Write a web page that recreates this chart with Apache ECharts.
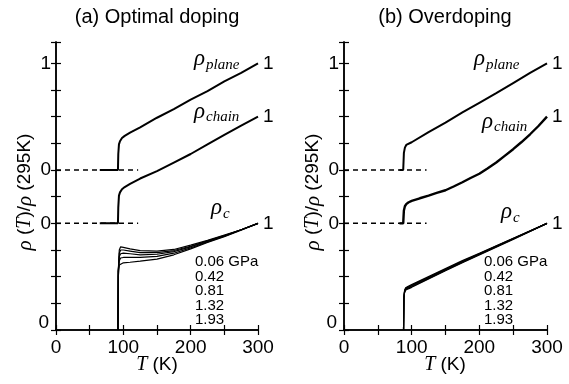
<!DOCTYPE html>
<html>
<head>
<meta charset="utf-8">
<script src="https://cdn.jsdelivr.net/npm/echarts@6/dist/echarts.min.js"></script>
<style>
html, body { margin: 0; padding: 0; background: #fff; }
#chart { width: 569px; height: 384px; }
</style>
</head>
<body>
<div id="chart"></div>
<script>
//(a) optimal doping
const tPlaneA = [65, 80, 92, 92.5, 93.5, 95, 98, 102, 110, 125, 150, 175, 200, 225, 250, 275, 300];
const planeA = [0, 0, 0, 0.15, 0.24, 0.27, 0.30, 0.32, 0.35, 0.40, 0.49, 0.57, 0.66, 0.74, 0.83, 0.91, 1.0];
const tChainA = [65, 80, 92, 92.5, 93.5, 95, 98, 102, 110, 125, 150, 175, 200, 225, 250, 275, 300];
const chainA = [0, 0, 0, 0.15, 0.26, 0.29, 0.32, 0.34, 0.37, 0.42, 0.49, 0.57, 0.65, 0.74, 0.83, 0.915, 1.0];
const tCA = [92, 92.5, 94, 96, 100, 110, 125, 150, 175, 200, 225, 250, 275, 300];
const cA1 = [0, 0.55, 0.75, 0.78, 0.775, 0.76, 0.745, 0.74, 0.755, 0.795, 0.84, 0.89, 0.94, 1.0];
const cA2 = [0, 0.55, 0.72, 0.75, 0.75, 0.74, 0.725, 0.725, 0.745, 0.785, 0.835, 0.885, 0.94, 1.0];
const cA3 = [0, 0.55, 0.69, 0.715, 0.72, 0.715, 0.705, 0.71, 0.735, 0.78, 0.83, 0.88, 0.94, 1.0];
const cA4 = [0, 0.55, 0.65, 0.675, 0.68, 0.68, 0.68, 0.69, 0.72, 0.77, 0.825, 0.88, 0.94, 1.0];
const cA5 = [0, 0.5, 0.61, 0.625, 0.63, 0.635, 0.645, 0.665, 0.705, 0.76, 0.82, 0.875, 0.935, 1.0];

//(b) overdoping
const tPlaneB = [82, 87.5, 88, 88.5, 90, 92, 100, 125, 150, 175, 200, 225, 250, 275, 300];
const planeB = [0, 0, 0.08, 0.16, 0.21, 0.235, 0.26, 0.355, 0.445, 0.54, 0.63, 0.72, 0.815, 0.91, 1.0];
const tChainB = [82, 87.5, 88, 88.5, 90, 92, 95, 100, 112, 125, 137, 150, 162, 175, 187, 200, 212, 225, 237, 250, 262, 275, 287, 300];
const chainB = [0, 0, 0.06, 0.12, 0.16, 0.18, 0.195, 0.21, 0.235, 0.26, 0.285, 0.31, 0.345, 0.385, 0.425, 0.465, 0.515, 0.57, 0.63, 0.695, 0.76, 0.835, 0.91, 1.0];
const tCB = [88, 88.5, 89.5, 91, 95, 100, 125, 150, 175, 200, 225, 250, 275, 300];
const cB1 = [0, 0.3, 0.37, 0.395, 0.41, 0.425, 0.5, 0.575, 0.65, 0.72, 0.79, 0.86, 0.93, 1.0];
const cB2 = [0, 0.3, 0.365, 0.39, 0.405, 0.42, 0.495, 0.57, 0.645, 0.715, 0.787, 0.857, 0.928, 1.0];
const cB3 = [0, 0.3, 0.36, 0.385, 0.4, 0.413, 0.49, 0.565, 0.64, 0.712, 0.783, 0.855, 0.927, 1.0];
const cB4 = [0, 0.3, 0.355, 0.378, 0.393, 0.406, 0.484, 0.56, 0.635, 0.708, 0.78, 0.853, 0.926, 1.0];
const cB5 = [0, 0.3, 0.35, 0.372, 0.386, 0.4, 0.478, 0.555, 0.63, 0.703, 0.776, 0.85, 0.925, 1.0];

//zero reference lines (dashed)
const tDash = [0, 122];
const zeroDash = [0, 0];

//vertical offsets of the stacked curves
const offPlane = 1.5;
const offChain = 1.0;
const offC = 0;

//tick labels
const xTickVals = [0, 100, 200, 300];
const leftTickVals = [0, 1, 1.5, 2.5];
const leftTickText = ['0', '0', '0', '1'];
const rightTickVals = [1, 2, 2.5];
const rightTickText = ['1', '1', '1'];
const pressures = ['0.06 GPa', '0.42', '0.81', '1.32', '1.93'];

const sans = '"Liberation Sans", Arial, sans-serif';
const serif = '"Liberation Serif", "Times New Roman", serif';

const chart = echarts.init(document.getElementById('chart'));

function pairs(ts, vs, off) {
    return ts.map((t, i) => [t, vs[i] + off]);
}

function findLabel(vals, texts, v) {
    for (let i = 0; i < vals.length; i++) {
        if (Math.abs(vals[i] - v) < 1e-6) return texts[i];
    }
    return '';
}

function curve(ts, vs, off, g, width, dashed) {
    return {
        type: 'line',
        xAxisIndex: g * 2,
        yAxisIndex: g * 2,
        data: pairs(ts, vs, off),
        showSymbol: false,
        silent: true,
        lineStyle: { color: '#000', width: width, type: dashed ? [5, 4] : 'solid' },
        z: dashed ? 2 : 3
    };
}

function xAxes(g) {
    return [{
        type: 'value', gridIndex: g, position: 'bottom', min: 0, max: 300, interval: 50,
        axisLine: { lineStyle: { color: '#000', width: 1.5 } },
        axisTick: { inside: true, length: 5, lineStyle: { color: '#000', width: 1.2 } },
        axisLabel: {
            color: '#000', fontSize: 19, fontFamily: sans, margin: 8,
            formatter: v => xTickVals.indexOf(v) >= 0 ? String(v) : ''
        },
        splitLine: { show: false }
    }, {
        type: 'value', gridIndex: g, position: 'top', min: 0, max: 300, interval: 50,
        axisLine: { lineStyle: { color: '#000', width: 1.5 } },
        axisTick: { inside: true, length: 5, lineStyle: { color: '#000', width: 1.2 } },
        axisLabel: { show: false },
        splitLine: { show: false }
    }];
}

function yAxes(g) {
    return [{
        type: 'value', gridIndex: g, position: 'left', min: 0, max: 2.7, interval: 0.25,
        axisLine: { lineStyle: { color: '#000', width: 1.5 } },
        axisTick: { inside: true, length: 5, lineStyle: { color: '#000', width: 1.2 } },
        axisLabel: {
            color: '#000', fontSize: 19, fontFamily: sans, margin: 5,
            formatter: v => v === 0 ? '{b|0}' : findLabel(leftTickVals, leftTickText, v),
            rich: { b: { fontSize: 19, fontFamily: sans, color: '#000', padding: [0, 2, 14, 0] } }
        },
        splitLine: { show: false }
    }, {
        type: 'value', gridIndex: g, position: 'right', min: 0, max: 2.7, interval: 0.25,
        axisLine: { lineStyle: { color: '#000', width: 1.5 } },
        axisTick: { inside: true, length: 5, lineStyle: { color: '#000', width: 1.2 } },
        axisLabel: {
            color: '#000', fontSize: 19, fontFamily: sans, margin: 5,
            formatter: v => findLabel(rightTickVals, rightTickText, v)
        },
        splitLine: { show: false }
    }];
}

//text helpers
function txt(x, y, text, font, align) {
    return {
        type: 'text', x: x, y: y, silent: true,
        style: { text: text, font: font, fill: '#000', align: align || 'left', verticalAlign: 'middle' }
    };
}

function rhoLabel(x, y, sub, subDy) {
    return [
        txt(x, y, 'ρ', 'italic 23px ' + serif),
        txt(x + 12, y + subDy, sub, 'italic 15px ' + serif)
    ];
}

function pressureList(x) {
    return pressures.map((p, i) => txt(x, 262 + i * 14.5, p, '15px ' + sans));
}

function yName(x) {
    return {
        type: 'text', x: x, y: 192, rotation: Math.PI / 2, silent: true,
        style: {
            text: '{r|ρ} ({i|T})/{r|ρ} (295K)', align: 'center', verticalAlign: 'middle',
            font: '19px ' + sans, fill: '#000',
            rich: {
                r: { fontFamily: serif, fontStyle: 'italic', fontSize: 21, fill: '#000' },
                i: { fontFamily: serif, fontStyle: 'italic', fontSize: 20, fill: '#000' }
            }
        }
    };
}

function xName(x) {
    return {
        type: 'text', x: x, y: 365, silent: true,
        style: {
            text: '{i|T} (K)', align: 'center', verticalAlign: 'middle',
            font: '19px ' + sans, fill: '#000',
            rich: { i: { fontFamily: serif, fontStyle: 'italic', fontSize: 20, fill: '#000' } }
        }
    };
}

const series = [
    curve(tDash, zeroDash, offPlane, 0, 1.5, true),
    curve(tDash, zeroDash, offChain, 0, 1.5, true),
    curve(tPlaneA, planeA, offPlane, 0, 2, false),
    curve(tChainA, chainA, offChain, 0, 2, false),
    curve(tCA, cA1, offC, 0, 1.2, false),
    curve(tCA, cA2, offC, 0, 1.2, false),
    curve(tCA, cA3, offC, 0, 1.2, false),
    curve(tCA, cA4, offC, 0, 1.2, false),
    curve(tCA, cA5, offC, 0, 1.2, false),
    curve(tDash, zeroDash, offPlane, 1, 1.5, true),
    curve(tDash, zeroDash, offChain, 1, 1.5, true),
    curve(tPlaneB, planeB, offPlane, 1, 2, false),
    curve(tChainB, chainB, offChain, 1, 2.4, false),
    curve(tCB, cB1, offC, 1, 1.2, false),
    curve(tCB, cB2, offC, 1, 1.2, false),
    curve(tCB, cB3, offC, 1, 1.2, false),
    curve(tCB, cB4, offC, 1, 1.2, false),
    curve(tCB, cB5, offC, 1, 1.2, false)
];

const graphic = [
    txt(157, 17, '(a) Optimal doping', '20px ' + sans, 'center'),
    txt(445, 17, '(b) Overdoping', '20px ' + sans, 'center'),
    yName(25),
    yName(313),
    xName(157),
    xName(445)
]
    .concat(rhoLabel(194, 59, 'plane', 6))
    .concat(rhoLabel(194, 112, 'chain', 5))
    .concat(rhoLabel(211, 208, 'c', 6))
    .concat(rhoLabel(474, 59, 'plane', 6))
    .concat(rhoLabel(482, 122, 'chain', 5))
    .concat(rhoLabel(501, 212, 'c', 6))
    .concat(pressureList(195))
    .concat(pressureList(484));

const option = {
    animation: false,
    backgroundColor: '#fff',
    grid: [
        { left: 56, top: 42, width: 202, height: 288 },
        { left: 344, top: 42, width: 203, height: 288 }
    ],
    xAxis: xAxes(0).concat(xAxes(1)),
    yAxis: yAxes(0).concat(yAxes(1)),
    series: series,
    graphic: graphic
};

chart.setOption(option);
</script>
</body>
</html>
